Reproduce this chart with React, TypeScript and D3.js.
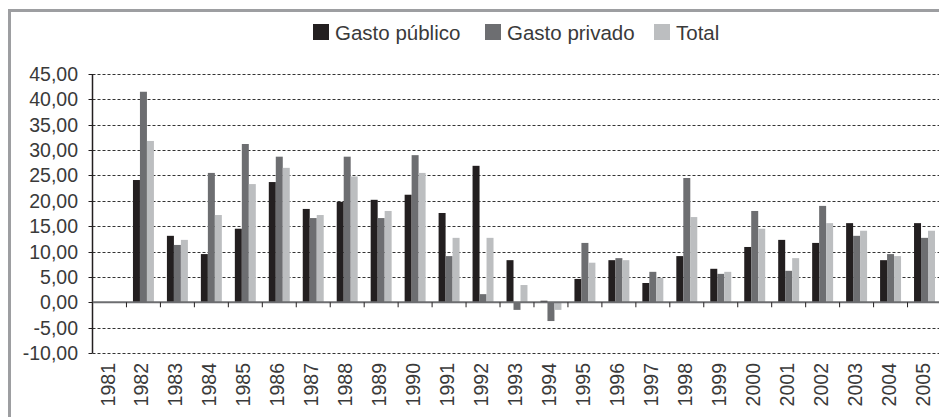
import React from 'react';
import * as d3 from 'd3';

// Data
const years = ['1981', '1982', '1983', '1984', '1985', '1986', '1987', '1988', '1989', '1990', '1991', '1992', '1993', '1994', '1995', '1996', '1997', '1998', '1999', '2000', '2001', '2002', '2003', '2004', '2005'];
const gastoPublico = [null, 24.1, 13.1, 9.5, 14.5, 23.7, 18.4, 19.8, 20.2, 21.2, 17.6, 26.9, 8.3, 0.3, 4.6, 8.3, 3.8, 9.1, 6.6, 10.9, 12.3, 11.7, 15.6, 8.3, 15.6];
const gastoPrivado = [null, 41.5, 11.3, 25.5, 31.2, 28.7, 16.6, 28.7, 16.6, 29.0, 9.1, 1.6, -1.5, -3.7, 11.7, 8.7, 6.0, 24.5, 5.6, 18.0, 6.2, 19.0, 13.1, 9.5, 12.7];
const total = [null, 31.8, 12.3, 17.2, 23.3, 26.5, 17.2, 24.8, 18.0, 25.5, 12.7, 12.7, 3.4, -1.5, 7.8, 8.3, 4.8, 16.8, 6.0, 14.5, 8.7, 15.6, 14.1, 9.1, 14.1];
const seriesNames = ['Gasto público', 'Gasto privado', 'Total'];
const yTicks = [-10, -5, 0, 5, 10, 15, 20, 25, 30, 35, 40, 45];

const colors = ['#231f20', '#6d6e71', '#bcbec0'];
const textColor = '#3a3a3a';
const font = "'Liberation Sans', Arial, sans-serif";

const W = 939;
const H = 417;
const margin = { left: 92.5, top: 74, right: -2.5, bottom: 64 };

const App = () => {
  const series = [gastoPublico, gastoPrivado, total];

  const x = d3.scaleBand<string>()
    .domain(years)
    .range([margin.left, W - margin.right])
    .padding(0);

  const xInner = d3.scaleBand<number>()
    .domain([0, 1, 2])
    .range([0, x.bandwidth()])
    .paddingInner(0)
    .paddingOuter(0.93);

  const y = d3.scaleLinear()
    .domain([-10, 45])
    .range([H - margin.bottom, margin.top]);

  const legendX = [313, 485, 654];
  const fmt = (v: number) => v.toFixed(2).replace('.', ',');

  return (
    <svg width={W} height={H} style={{ position: 'absolute', left: 0, top: 0, background: '#fff' }}>
      {/* outer frame */}
      <rect x={9.5} y={10.5} width={W + 20} height={H + 20} fill="none" stroke="#9d9ea1" strokeWidth={3} />

      {/* legend */}
      {seriesNames.map((name, i) => (
        <g key={name}>
          <rect x={legendX[i]} y={24} width={16} height={16} fill={colors[i]} />
          <text x={legendX[i] + 22} y={40} fontFamily={font} fontSize={20.5} fill={textColor}>{name}</text>
        </g>
      ))}

      {/* gridlines */}
      {yTicks.filter(t => t !== 0).map(t => (
        <line key={t} x1={margin.left} x2={W} y1={Math.round(y(t)) + 0.5} y2={Math.round(y(t)) + 0.5}
          stroke="#333" strokeWidth={1} strokeDasharray="3,2" />
      ))}

      {/* y axis */}
      <line x1={margin.left} x2={margin.left} y1={y(45)} y2={y(-10)} stroke="#231f20" strokeWidth={1.5} />
      {yTicks.map(t => (
        <g key={t}>
          <line x1={margin.left - 4} x2={margin.left} y1={Math.round(y(t)) + 0.5} y2={Math.round(y(t)) + 0.5} stroke="#231f20" strokeWidth={1} />
          <text x={78} y={y(t)} dy="0.36em" textAnchor="end" fontFamily={font} fontSize={19.5} fill={textColor}>{fmt(t)}</text>
        </g>
      ))}

      {/* bars */}
      {series.map((vals, s) => (
        <g key={s} fill={colors[s]}>
          {vals.map((v, i) => v === null ? null : (
            <rect key={i}
              x={(x(years[i]) as number) + (xInner(s) as number)}
              y={y(Math.max(0, v))}
              width={xInner.bandwidth()}
              height={Math.abs(y(v) - y(0))} />
          ))}
        </g>
      ))}

      {/* zero line and category ticks */}
      <line x1={margin.left} x2={W} y1={y(0)} y2={y(0)} stroke="#6d6e71" strokeWidth={2} />
      {years.map(yr => (
        <line key={yr} x1={x(yr) as number} x2={x(yr) as number} y1={y(0)} y2={y(0) + 5} stroke="#231f20" strokeWidth={1} />
      ))}

      {/* year labels */}
      {years.map(yr => (
        <text key={yr}
          transform={`translate(${(x(yr) as number) + x.bandwidth() / 2 - 2},${y(-10) + 10}) rotate(-90)`}
          dy="0.36em" textAnchor="end" fontFamily={font} fontSize={19.5} fill={textColor}>{yr}</text>
      ))}
    </svg>
  );
};

export default App;
